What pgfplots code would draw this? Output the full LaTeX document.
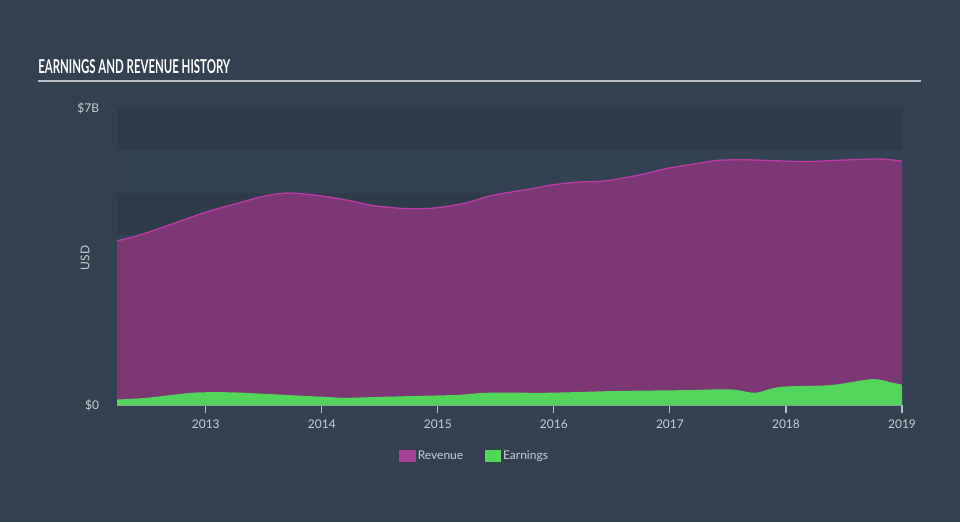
\documentclass[border=0pt]{standalone}
\usepackage{pgfplots}
\pgfplotsset{compat=1.18}
\usepackage{pgfplotstable}
\usepackage{fontspec}
\setmainfont{Lato}

\definecolor{bg}{HTML}{334050}
\definecolor{banddark}{HTML}{2E3B4A}
\definecolor{bandlight}{HTML}{324253}
\definecolor{revfill}{HTML}{7B3875}
\definecolor{revline}{HTML}{B93AA3}
\definecolor{revleg}{HTML}{A8409A}
\definecolor{earnfill}{HTML}{53D45A}
\definecolor{ticktext}{HTML}{C9CED3}
\definecolor{rule}{HTML}{B9BEC4}

% revenue, USD billions
\pgfplotstableread{
x y
2012.235 3.87
2012.43 4.01
2012.69 4.25
2013.00 4.55
2013.29 4.77
2013.51 4.93
2013.72 5.00
2014.00 4.93
2014.24 4.82
2014.45 4.70
2014.75 4.63
2014.98 4.65
2015.23 4.76
2015.48 4.95
2015.79 5.09
2015.98 5.19
2016.22 5.26
2016.43 5.28
2016.73 5.42
2016.98 5.58
2017.25 5.70
2017.42 5.77
2017.68 5.78
2017.99 5.75
2018.19 5.74
2018.45 5.77
2018.80 5.80
2019.00 5.75
}\revenue

% earnings, USD billions
\pgfplotstableread{
x y
2012.235 0.14
2012.49 0.18
2012.89 0.30
2013.21 0.31
2013.46 0.28
2013.75 0.24
2014.04 0.20
2014.21 0.18
2014.47 0.20
2014.90 0.23
2015.18 0.25
2015.44 0.30
2015.96 0.30
2016.53 0.34
2017.10 0.36
2017.48 0.38
2017.59 0.36
2017.74 0.30
2017.96 0.44
2018.39 0.48
2018.74 0.62
2018.91 0.54
2019.00 0.49
}\earnings

\begin{document}
\begin{tikzpicture}[x=0.75pt,y=0.75pt]
\fill[bg] (0,0) rectangle (960,522);
\node[anchor=south west, inner sep=0, text=white] at (38,448) {\resizebox{144pt}{10.5pt}{\bfseries EARNINGS AND REVENUE HISTORY}};
\draw[rule, line width=1.4pt] (38,441) -- (921,441);
\node[rotate=90, text=ticktext, font=\fontsize{9pt}{10pt}\selectfont] at (85,264) {USD};

\begin{axis}[
    at={(87.75pt,87.4pt)}, anchor=south west,
    scale only axis,
    width=588.75pt, height=223.1pt,
    xmin=2012.235, xmax=2019,
    ymin=0, ymax=7,
    axis x line*=bottom,
    axis y line*=left,
    x axis line style={draw=rule, line width=0.8pt},
    y axis line style={draw=none},
    xtick={2013,2014,2015,2016,2017,2018,2019},
    xticklabels={2013,2014,2015,2016,2017,2018,2019},
    ytick={0,7},
    yticklabels={\$0,\$7B},
    tick align=outside,
    major tick length=6pt,
    x tick style={draw=rule, line width=0.8pt},
    y tick style={draw=none},
    tick label style={text=ticktext, font=\fontsize{9pt}{10pt}\selectfont},
    xticklabel style={yshift=-1pt},
    yticklabel style={xshift=-4pt},
    clip=true,
    legend columns=2,
    legend style={at={(0.456,-0.17)}, anchor=center, draw=none, fill=none,
        text=ticktext, font=\fontsize{9pt}{10pt}\selectfont,
        /tikz/every even column/.append style={column sep=14pt}},
]
\fill[banddark] (axis cs:2012.235,6) rectangle (axis cs:2019,7);
\fill[bandlight] (axis cs:2012.235,5) rectangle (axis cs:2019,6);
\fill[banddark] (axis cs:2012.235,4) rectangle (axis cs:2019,5);
\fill[bandlight] (axis cs:2012.235,3) rectangle (axis cs:2019,4);
\fill[banddark] (axis cs:2012.235,2) rectangle (axis cs:2019,3);
\fill[bandlight] (axis cs:2012.235,1) rectangle (axis cs:2019,2);
\fill[banddark] (axis cs:2012.235,0) rectangle (axis cs:2019,1);

\addplot[draw=none, fill=revfill, smooth, forget plot] table {\revenue} \closedcycle;
\addplot[revline, line width=1pt, smooth, forget plot] table {\revenue};
\addplot[draw=none, fill=earnfill, smooth, forget plot] table {\earnings} \closedcycle;

\addlegendimage{legend image code/.code={\fill[revleg] (0pt,-4pt) rectangle (11.5pt,4.5pt);}}
\addlegendentry{Revenue}
\addlegendimage{legend image code/.code={\fill[earnfill] (0pt,-4pt) rectangle (11.5pt,4.5pt);}}
\addlegendentry{Earnings}
\end{axis}
\end{tikzpicture}
\end{document}
